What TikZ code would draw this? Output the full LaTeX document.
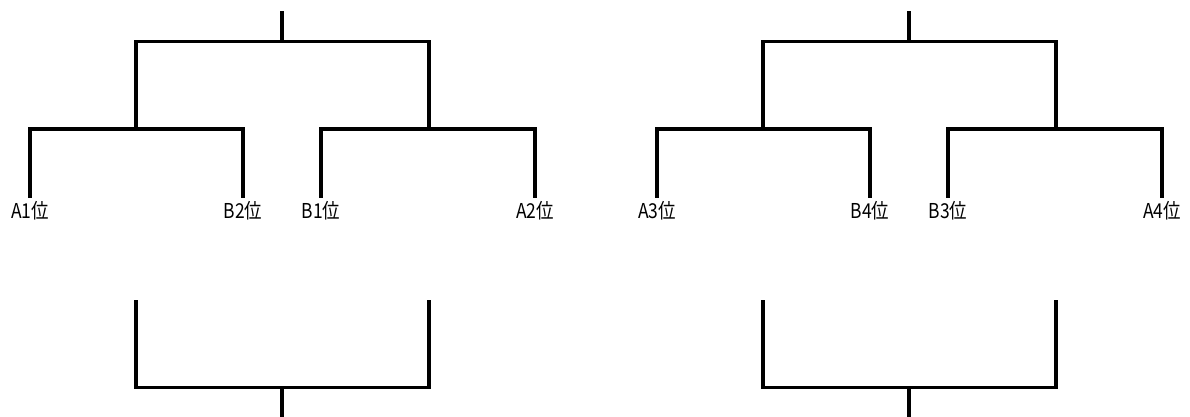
\documentclass[tikz,border=0pt]{standalone}
\usepackage{fontspec}
\usepackage{graphicx}
\newfontfamily\jp{Noto Sans CJK JP}
\newcommand{\lbltxt}[1]{\scalebox{0.97}[1.14]{#1}}
\begin{document}
\begin{tikzpicture}[x=1pt,y=-1pt,
  wire/.style={line width=3.8pt, line cap=butt, line join=miter},
  lab/.style={font=\jp\fontsize{18}{18}\selectfont, anchor=base, inner sep=0pt}]
\useasboundingbox[fill=white] (0,0) rectangle (1190,416);

% ---- left upper tree ----
\coordinate (Lroot) at (282,11);
\coordinate (Ltop) at (282,41.5);
\coordinate (Lml) at (136,129.3);
\coordinate (Lmr) at (429,129.3);
\coordinate (La1) at (30,197.5);
\coordinate (Lb2) at (243,197.5);
\coordinate (Lb1) at (321,197.5);
\coordinate (La2) at (535,197.5);
\draw[wire] (Lroot) -- (Ltop);
\draw[wire] (Lml) |- (Ltop) -| (Lmr);
\draw[wire] (La1) |- (Lml) -| (Lb2);
\draw[wire] (Lb1) |- (Lmr) -| (La2);
\node[lab] (tA1) at (30,218) {\lbltxt{A1位}};
\node[lab] (tB2) at (243,218) {\lbltxt{B2位}};
\node[lab] (tB1) at (321,218) {\lbltxt{B1位}};
\node[lab] (tA2) at (535,218) {\lbltxt{A2位}};

% ---- right upper tree ----
\coordinate (Rroot) at (909,11);
\coordinate (Rtop) at (909,41.5);
\coordinate (Rml) at (763,129.3);
\coordinate (Rmr) at (1056,129.3);
\coordinate (Ra3) at (657,197.5);
\coordinate (Rb4) at (870,197.5);
\coordinate (Rb3) at (948,197.5);
\coordinate (Ra4) at (1162,197.5);
\draw[wire] (Rroot) -- (Rtop);
\draw[wire] (Rml) |- (Rtop) -| (Rmr);
\draw[wire] (Ra3) |- (Rml) -| (Rb4);
\draw[wire] (Rb3) |- (Rmr) -| (Ra4);
\node[lab] (tA3) at (657,218) {\lbltxt{A3位}};
\node[lab] (tB4) at (870,218) {\lbltxt{B4位}};
\node[lab] (tB3) at (948,218) {\lbltxt{B3位}};
\node[lab] (tA4) at (1162,218) {\lbltxt{A4位}};

% ---- bottom brackets ----
\coordinate (BLl) at (136,300);
\coordinate (BLr) at (429,300);
\coordinate (BLm) at (282,387.5);
\coordinate (BLs) at (282,417);
\draw[wire] (BLl) |- (BLm) -| (BLr);
\draw[wire] (BLm) -- (BLs);

\coordinate (BRl) at (763,300);
\coordinate (BRr) at (1056,300);
\coordinate (BRm) at (909,387.5);
\coordinate (BRs) at (909,417);
\draw[wire] (BRl) |- (BRm) -| (BRr);
\draw[wire] (BRm) -- (BRs);
\end{tikzpicture}
\end{document}
